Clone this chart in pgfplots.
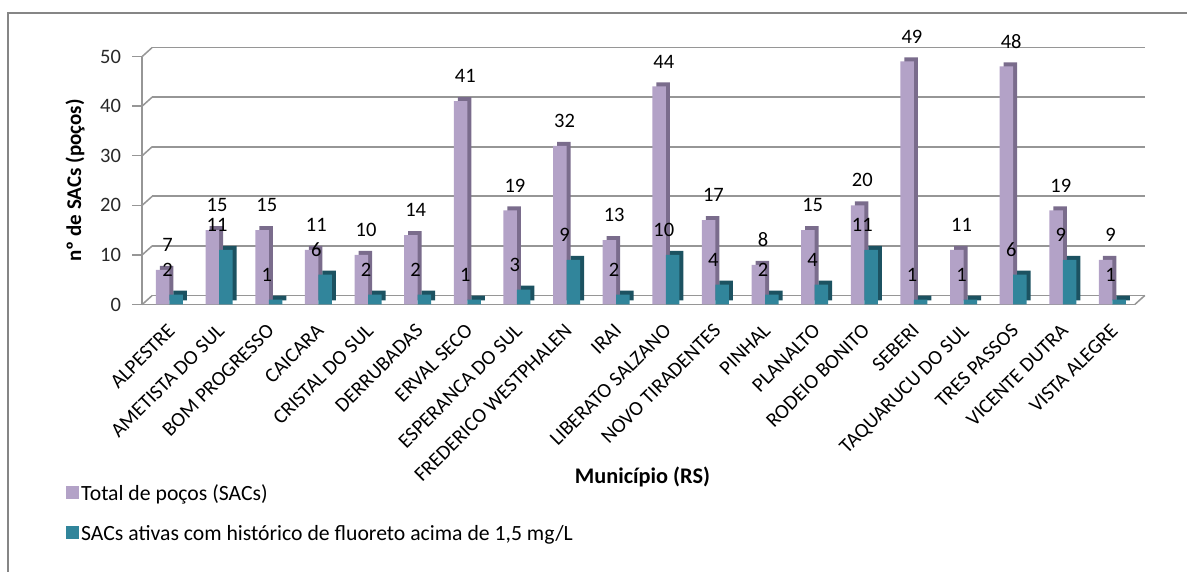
\documentclass[border=0pt]{standalone}
\usepackage{pgfplots}
\usepackage{pgfplotstable}
\pgfplotsset{compat=1.18}
\usepackage{fontspec}
\setmainfont{Carlito}

\definecolor{lilac}{RGB}{179,162,199}
\definecolor{lilacdark}{RGB}{122,108,140}
\definecolor{sacteal}{RGB}{49,133,155}
\definecolor{sactealdark}{RGB}{28,82,97}
\definecolor{gridgray}{RGB}{150,150,150}
\definecolor{framegray}{RGB}{134,134,134}
\definecolor{labelgray}{RGB}{40,40,40}

% idx: municipality position; total: all wells (SACs); ativas: active SACs with fluoride > 1,5 mg/L
\pgfplotstableread{
idx total ativas
0   7   2
1   15  11
2   15  1
3   11  6
4   10  2
5   14  2
6   41  1
7   19  3
8   32  9
9   13  2
10  44  10
11  17  4
12  8   2
13  15  4
14  20  11
15  49  1
16  11  1
17  48  6
18  19  9
19  9   1
}\sacdata

\newcommand{\legfont}{\fontsize{21.7bp}{26bp}\selectfont}
\newcommand{\xlabfont}{\fontsize{22.3bp}{27bp}\selectfont}
\newcommand{\ylabfont}{\fontsize{21bp}{25bp}\selectfont}
\newcommand{\midfont}{\fontsize{20.5bp}{25bp}\selectfont}

\begin{document}
\begin{tikzpicture}
\useasboundingbox (0,0) rectangle (1187bp,572bp);
% chart area border
\draw[framegray, line width=2bp] (8bp,-10bp) -- (8bp,559bp) -- (1200bp,559bp);
\begin{axis}[
  at={(142.2bp,267.5bp)}, anchor=south west,
  scale only axis, width=992.6bp, height=248bp,
  xmin=-0.55, xmax=19.45, ymin=0, ymax=50,
  clip=false,
  axis x line*=bottom, axis y line*=left,
  axis line style={gridgray, line width=1.5bp, -},
  ytick={0,10,20,30,40,50},
  tick align=outside, major tick length=10bp,
  ytick style={gridgray, line width=1.5bp},
  xtick={0,...,19},
  xtick style={draw=none},
  xticklabels={ALPESTRE, AMETISTA DO SUL, BOM PROGRESSO, CAICARA, CRISTAL DO SUL, DERRUBADAS, ERVAL SECO, ESPERANCA DO SUL, FREDERICO WESTPHALEN, IRAI, LIBERATO SALZANO, NOVO TIRADENTES, PINHAL, PLANALTO, RODEIO BONITO, SEBERI, TAQUARUCU DO SUL, TRES PASSOS, VICENTE DUTRA, VISTA ALEGRE},
  xticklabel style={yshift=-8bp, xshift=-3bp, rotate=45, anchor=north east, inner sep=0pt, font=\midfont, text=black},
  yticklabel style={font=\midfont, text=labelgray, anchor=east, inner sep=0pt, xshift=-11bp},
  /pgf/number format/assume math mode=true,
  ymajorgrids,
  major grid style={gridgray, line width=1.8bp, xshift=10bp, yshift=9bp},
  xlabel={\textbf{Município (RS)}},
  xlabel style={at={(axis description cs:0.5040,-0.6956)}, anchor=center, font=\xlabfont},
  ylabel={\textbf{nº de SACs (poços)}},
  ylabel style={at={(axis description cs:-0.0677,0.5)}, anchor=center, rotate=0, font=\ylabfont},
  legend style={at={(axis description cs:-0.0768,-0.7177)}, anchor=north west, draw=none, fill=none,
    font=\legfont, row sep=19bp, inner sep=0pt, cells={anchor=west}},
  legend cell align=left,
  legend image code/.code={\fill[#1, draw=none] (1bp,-6bp) rectangle (14bp,7bp);},
  nodes near coords,
  every node near coord/.append style={font=\midfont, text=black, anchor=south, inner sep=0pt, yshift=18bp, xshift=-2bp},
]
% depth of the 3-D look on the left wall and floor
\draw[gridgray, line width=1.5bp] (axis cs:-0.55,0) -- ++(10bp,9bp);
\draw[gridgray, line width=1.5bp] (axis cs:-0.55,10) -- ++(10bp,9bp);
\draw[gridgray, line width=1.5bp] (axis cs:-0.55,20) -- ++(10bp,9bp);
\draw[gridgray, line width=1.5bp] (axis cs:-0.55,30) -- ++(10bp,9bp);
\draw[gridgray, line width=1.5bp] (axis cs:-0.55,40) -- ++(10bp,9bp);
\draw[gridgray, line width=1.5bp] (axis cs:-0.55,50) -- ++(10bp,9bp);
\draw[gridgray, line width=1.5bp] (axis cs:19.45,0) -- ++(10bp,9bp);

% Total de poços: side/top shade, then front face
\addplot[ybar, bar width=13.5bp, bar shift=-6.75bp, fill=lilacdark, draw=none,
  xshift=4bp, yshift=4bp, forget plot, nodes near coords=] table[x=idx, y=total] {\sacdata};
\addplot[ybar, bar width=13.5bp, bar shift=-6.75bp, fill=lilac, draw=none]
  table[x=idx, y=total] {\sacdata};
\addlegendentry{Total de poços (SACs)}
% SACs ativas: side/top shade, then front face
\addplot[ybar, bar width=13.5bp, bar shift=6.75bp, fill=sactealdark, draw=none,
  xshift=4bp, yshift=4bp, forget plot, nodes near coords=] table[x=idx, y=ativas] {\sacdata};
\addplot[ybar, bar width=13.5bp, bar shift=6.75bp, fill=sacteal, draw=none]
  table[x=idx, y=ativas] {\sacdata};
\addlegendentry{SACs ativas com histórico de fluoreto acima de 1,5 mg/L}
\end{axis}
\end{tikzpicture}
\end{document}
